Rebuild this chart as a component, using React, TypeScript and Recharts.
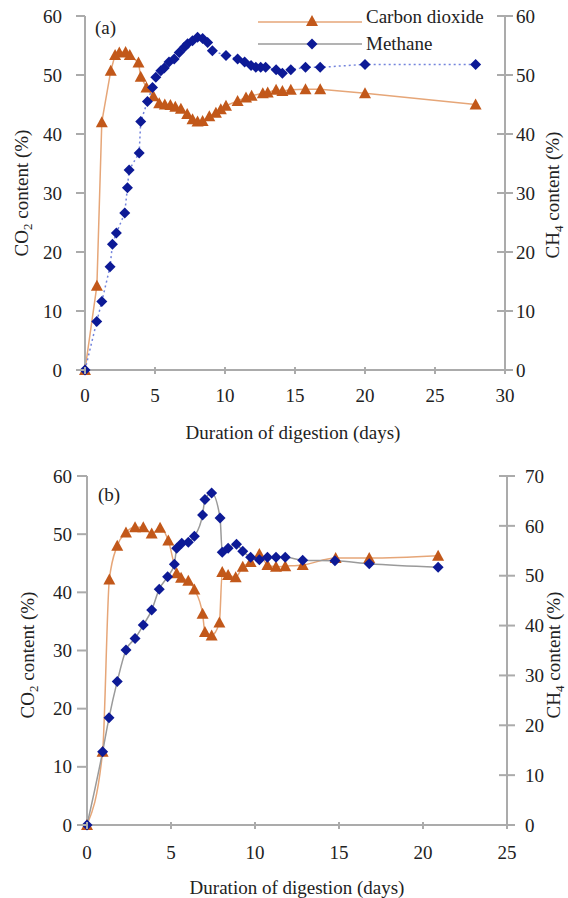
import React from 'react';
import { LineChart, Line, XAxis, YAxis, Legend } from 'recharts';

const FONT = '"Liberation Serif", "Times New Roman", serif';
const AXIS = '#ababab';
const CO2_LINE = '#e6a678';
const CO2_MARK = '#c2581a';
const CH4_MARK = '#0d1a96';
const CH4_DOTTED = '#7384dc';
const CH4_LINE = '#9a9a9a';

// (a) carbon dioxide, left axis
const daysCo2A = [0, 0.85, 1.2, 1.84, 2.15, 2.45, 2.9, 3.2, 3.82, 3.98, 4.39, 4.89, 5.3, 5.7, 6.1, 6.45, 6.85, 7.3, 7.68, 8.04, 8.4, 8.88, 9.35, 9.7, 10.07, 10.9, 11.5, 11.9, 12.7, 13.05, 13.65, 14.1, 14.7, 15.75, 16.8, 20.0, 27.9];
const co2A = [0, 14.3, 42.0, 50.7, 53.4, 53.8, 53.9, 53.4, 52.1, 49.7, 47.9, 46.4, 45.2, 45.0, 44.9, 44.6, 44.3, 43.4, 42.5, 42.1, 42.2, 43.0, 43.6, 44.2, 44.8, 45.6, 46.2, 46.5, 46.9, 47.05, 47.5, 47.3, 47.5, 47.6, 47.6, 46.9, 45.0];

// (a) methane, right axis
const daysCh4A = [0, 0.84, 1.2, 1.79, 1.96, 2.24, 2.84, 3.03, 3.15, 3.87, 3.98, 4.46, 4.82, 5.06, 5.42, 5.66, 6.0, 6.37, 6.73, 7.09, 7.33, 7.68, 8.04, 8.4, 8.76, 9.1, 10.07, 10.9, 11.4, 11.86, 12.2, 12.55, 12.9, 13.65, 14.1, 14.7, 15.75, 16.8, 20.0, 27.9];
const ch4A = [0, 8.2, 11.6, 17.5, 21.3, 23.2, 26.6, 30.9, 33.9, 36.8, 42.1, 45.5, 47.9, 49.6, 50.7, 51.2, 52.2, 52.7, 53.8, 54.7, 55.3, 55.8, 56.4, 56.2, 55.5, 54.1, 53.3, 52.7, 52.2, 51.6, 51.3, 51.3, 51.3, 50.9, 50.3, 50.9, 51.3, 51.3, 51.8, 51.8];

// (b) carbon dioxide, left axis
const daysCo2B = [0, 0.93, 1.33, 1.8, 2.32, 2.86, 3.35, 3.85, 4.35, 4.84, 5.34, 5.6, 6.03, 6.39, 6.88, 7.02, 7.42, 7.88, 8.05, 8.4, 8.85, 9.27, 9.74, 10.26, 10.74, 11.25, 11.8, 12.84, 14.8, 16.8, 20.9];
const co2B = [0, 12.6, 42.2, 48.0, 50.3, 51.2, 51.2, 50.1, 51.1, 48.9, 43.3, 42.5, 42.0, 40.5, 36.3, 33.2, 32.6, 34.8, 43.5, 43.0, 42.6, 44.4, 45.2, 46.6, 44.7, 44.4, 44.5, 44.7, 45.9, 45.9, 46.3];

// (b) methane, right axis
const daysCh4B = [0, 0.93, 1.31, 1.8, 2.32, 2.86, 3.35, 3.85, 4.3, 4.8, 5.2, 5.34, 5.64, 6.03, 6.39, 6.88, 7.02, 7.42, 7.92, 8.05, 8.4, 8.9, 9.27, 9.74, 10.26, 10.74, 11.25, 11.8, 12.84, 14.76, 16.8, 20.9];
const ch4B = [0, 14.7, 21.5, 28.8, 35.1, 37.4, 40.1, 43.1, 47.3, 49.8, 52.3, 55.5, 56.5, 56.7, 57.9, 62.2, 65.3, 66.6, 61.6, 54.7, 55.5, 56.3, 54.9, 53.7, 53.2, 53.7, 53.7, 53.7, 53.1, 53.0, 52.4, 51.7];

const ticksXA = [0, 5, 10, 15, 20, 25, 30];
const ticksXB = [0, 5, 10, 15, 20, 25];
const ticksCo2 = [0, 10, 20, 30, 40, 50, 60];
const ticksCh4A = [0, 10, 20, 30, 40, 50, 60];
const ticksCh4B = [0, 10, 20, 30, 40, 50, 60, 70];

const zip = (days: number[], vals: number[]) => days.map((day, i) => ({ day, value: vals[i] }));

const dataCo2A = zip(daysCo2A, co2A);
const dataCh4A = zip(daysCh4A, ch4A);
const dataCo2B = zip(daysCo2B, co2B);
const dataCh4B = zip(daysCh4B, ch4B);

const FS = 19;

const Tri = ({ cx, cy }: { cx: number; cy: number }) => (
  <polygon points={`${cx},${cy - 6} ${cx - 6},${cy + 5} ${cx + 6},${cy + 5}`} fill={CO2_MARK} />
);
const Dia = ({ cx, cy }: { cx: number; cy: number }) => (
  <polygon points={`${cx},${cy - 5.5} ${cx + 5.5},${cy} ${cx},${cy + 5.5} ${cx - 5.5},${cy}`} fill={CH4_MARK} />
);
const renderTri = (p: any) => <Tri key={`t${p.index}`} cx={p.cx} cy={p.cy} />;
const renderDia = (p: any) => <Dia key={`d${p.index}`} cx={p.cx} cy={p.cy} />;

// tick: draws its own mark (outer + inner part) and the label
function tickFor(side: 'left' | 'right' | 'bottom', size: number, margin: number, inner: number) {
  return (p: any) => {
    const { x, y, payload } = p;
    const textStyle = { fontFamily: FONT, fontSize: FS, fill: '#222' };
    if (side === 'bottom') {
      const ay = y - size - margin;
      return (
        <g>
          <line x1={x} x2={x} y1={ay - inner} y2={ay + size} stroke={AXIS} strokeWidth={2} />
          <text x={x} y={y} dy="0.71em" textAnchor="middle" style={textStyle}>{payload.value}</text>
        </g>
      );
    }
    const sign = side === 'left' ? -1 : 1;
    const ax = x - sign * (size + margin);
    return (
      <g>
        <line x1={ax - sign * inner} x2={ax + sign * size} y1={y} y2={y} stroke={AXIS} strokeWidth={2} />
        <text x={x} y={y} dy="0.35em" textAnchor={side === 'left' ? 'end' : 'start'} style={textStyle}>{payload.value}</text>
      </g>
    );
  };
}

const LegendA = () => (
  <div style={{ fontFamily: FONT, fontSize: FS, color: '#222' }}>
    <div style={{ display: 'flex', alignItems: 'center', height: 24 }}>
      <svg width={110} height={24}>
        <line x1={2} x2={106} y1={14} y2={14} stroke={CO2_LINE} strokeWidth={1.5} />
        <Tri cx={56} cy={13} />
      </svg>
      <span style={{ marginTop: -6 }}>Carbon dioxide</span>
    </div>
    <div style={{ display: 'flex', alignItems: 'center', height: 24 }}>
      <svg width={110} height={24}>
        <line x1={2} x2={106} y1={12} y2={12} stroke={CH4_LINE} strokeWidth={1.5} />
        <Dia cx={56} cy={12} />
      </svg>
      <span>Methane</span>
    </div>
  </div>
);

const titleStyle: React.CSSProperties = {
  position: 'absolute',
  fontFamily: FONT,
  fontSize: FS,
  color: '#222',
  whiteSpace: 'nowrap',
  lineHeight: 1,
};

const VTitle = ({ cx, cy, children }: { cx: number; cy: number; children: React.ReactNode }) => (
  <div style={{ ...titleStyle, left: cx, top: cy, transform: 'translate(-50%, -50%) rotate(-90deg)' }}>{children}</div>
);
const HTitle = ({ cx, cy, children }: { cx: number; cy: number; children: React.ReactNode }) => (
  <div style={{ ...titleStyle, left: cx, top: cy, transform: 'translate(-50%, -50%)' }}>{children}</div>
);

const subStyle: React.CSSProperties = { fontSize: 13, verticalAlign: 'baseline', position: 'relative', top: 4 };

export default function App() {
  return (
    <div style={{ position: 'absolute', left: 0, top: 0, width: 568, height: 898, background: '#fff', overflow: 'hidden' }}>
      <div style={{ position: 'absolute', left: 0, top: 0 }}>
        <LineChart width={568} height={450} margin={{ top: 16, right: 23, bottom: 50, left: 45 }}>
          <XAxis
            dataKey="day" type="number" domain={[0, 30]} ticks={ticksXA} height={30}
            axisLine={{ stroke: AXIS, strokeWidth: 2 }} tickLine={false} tickSize={4} tickMargin={15}
            tick={tickFor('bottom', 4, 15, 3)}
          />
          <YAxis
            yAxisId="l" domain={[0, 60]} ticks={ticksCo2} width={40}
            axisLine={{ stroke: AXIS, strokeWidth: 2 }} tickLine={false} tickSize={9} tickMargin={14}
            tick={tickFor('left', 9, 14, 0)}
          />
          <YAxis
            yAxisId="r" orientation="right" domain={[0, 60]} ticks={ticksCh4A} width={40}
            axisLine={{ stroke: AXIS, strokeWidth: 2 }} tickLine={false} tickSize={8} tickMargin={3}
            tick={tickFor('right', 8, 3, 8)}
          />
          <Legend
            layout="vertical" verticalAlign="middle" align="center"
            content={LegendA}
            wrapperStyle={{ left: 256, top: 8, width: 'auto' }}
          />
          <Line yAxisId="l" data={dataCo2A} dataKey="value" type="linear" stroke={CO2_LINE} strokeWidth={1.5} dot={renderTri} activeDot={false} isAnimationActive={false} />
          <Line yAxisId="r" data={dataCh4A} dataKey="value" type="linear" stroke={CH4_DOTTED} strokeWidth={1.5} strokeDasharray="2 3" dot={renderDia} activeDot={false} isAnimationActive={false} />
        </LineChart>
      </div>

      <div style={{ position: 'absolute', left: 0, top: 450 }}>
        <LineChart width={568} height={448} margin={{ top: 26, right: 21, bottom: 43, left: 47 }}>
          <XAxis
            dataKey="day" type="number" domain={[0, 25]} ticks={ticksXB} height={30}
            axisLine={{ stroke: AXIS, strokeWidth: 2 }} tickLine={false} tickSize={4} tickMargin={17}
            tick={tickFor('bottom', 4, 17, 3)}
          />
          <YAxis
            yAxisId="l" domain={[0, 60]} ticks={ticksCo2} width={40}
            axisLine={{ stroke: AXIS, strokeWidth: 2 }} tickLine={false} tickSize={10} tickMargin={5}
            tick={tickFor('left', 10, 5, 0)}
          />
          <YAxis
            yAxisId="r" orientation="right" domain={[0, 70]} ticks={ticksCh4B} width={40}
            axisLine={{ stroke: AXIS, strokeWidth: 2 }} tickLine={false} tickSize={8} tickMargin={10}
            tick={tickFor('right', 8, 10, 8)}
          />
          <Line yAxisId="l" data={dataCo2B} dataKey="value" type="monotone" stroke={CO2_LINE} strokeWidth={1.5} dot={renderTri} activeDot={false} isAnimationActive={false} />
          <Line yAxisId="r" data={dataCh4B} dataKey="value" type="monotone" stroke={CH4_LINE} strokeWidth={1.5} dot={renderDia} activeDot={false} isAnimationActive={false} />
        </LineChart>
      </div>

      <div style={{ ...titleStyle, left: 95, top: 18 }}>(a)</div>
      <div style={{ ...titleStyle, left: 98, top: 485 }}>(b)</div>

      <VTitle cx={21} cy={193}>CO<span style={subStyle}>2</span> content (%)</VTitle>
      <VTitle cx={552} cy={195}>CH<span style={subStyle}>4</span> content (%)</VTitle>
      <HTitle cx={293} cy={432}>Duration of digestion (days)</HTitle>

      <VTitle cx={27} cy={655}>CO<span style={subStyle}>2</span> content (%)</VTitle>
      <VTitle cx={553} cy={655}>CH<span style={subStyle}>4</span> content (%)</VTitle>
      <HTitle cx={297} cy={887}>Duration of digestion (days)</HTitle>
    </div>
  );
}
